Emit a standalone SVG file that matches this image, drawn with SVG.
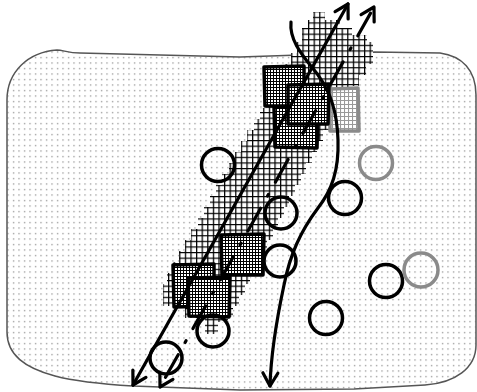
<svg xmlns="http://www.w3.org/2000/svg" width="477" height="392" viewBox="0 0 477 392">
<defs>
  <pattern id="dots" width="5.5" height="5.5" patternUnits="userSpaceOnUse">
    <rect x="2" y="2" width="1.1" height="1.1" fill="#666"/>
  </pattern>
  <pattern id="band" width="5.6" height="5.6" patternUnits="userSpaceOnUse">
    <rect width="5.6" height="5.6" fill="#fff"/>
    <path d="M0,0.6 H5.6 M0.6,0 V5.6" stroke="#000" stroke-width="1.3"/>
  </pattern>
  <pattern id="fine" width="3" height="3" patternUnits="userSpaceOnUse">
    <rect width="3" height="3" fill="#fff"/>
    <path d="M0,0.5 H3 M0.5,0 V3" stroke="#000" stroke-width="1"/>
  </pattern>
  <pattern id="fineGray" width="4" height="4" patternUnits="userSpaceOnUse">
    <rect width="4" height="4" fill="#fff"/>
    <path d="M0,0.5 H4 M0.5,0 V4" stroke="#999" stroke-width="1.1"/>
  </pattern>
  <marker id="ah" viewBox="-16 -10 20 20" markerWidth="20" markerHeight="20" refX="0" refY="0" orient="auto-start-reverse" markerUnits="userSpaceOnUse" overflow="visible">
    <path d="M-13,-7.5 L0,0 L-13,7.5" fill="none" stroke="#000" stroke-width="3.2" stroke-linecap="round" stroke-linejoin="round"/>
  </marker>
  <style>
    .sq { fill: url(#fine); stroke: #000; stroke-width: 3.5; stroke-linejoin: round; }
    .sqg { fill: url(#fineGray); stroke: #8a8a8a; stroke-width: 3.5; stroke-linejoin: round; }
    .c { fill: none; stroke: #000; stroke-width: 3.5; }
    .cg { fill: none; stroke: #8a8a8a; stroke-width: 3.5; }
    .ln { fill: none; stroke: #000; stroke-width: 3.2; stroke-linecap: round; }
  </style>
</defs>

<g id="region">
  <path d="M7,332 L7,100 C7,72 28,52 57,50 C63,50 68,53 80,53 L240,57 L300,55 L375,52 L440,53 C462,56 476,70 476,95 L476,345 C476,368 455,383 425,385 L354,389 L240,390 L133,386 C100,384 70,380 55,376 C25,368 7,355 7,332 Z" fill="#fff" stroke="#555" stroke-width="1.5"/>
  <path d="M7,332 L7,100 C7,72 28,52 57,50 C63,50 68,53 80,53 L240,57 L300,55 L375,52 L440,53 C462,56 476,70 476,95 L476,345 C476,368 455,383 425,385 L354,389 L240,390 L133,386 C100,384 70,380 55,376 C25,368 7,355 7,332 Z" fill="url(#dots)"/>
</g>

<g id="band-area">
  <path fill="url(#band)" d="M367,42 L373,42 L373,64 L366,64 L366,75 L359,75 L359,86 L352,86 L352,97 L345,97 L345,108 L337,108 L337,119 L330,119 L330,130 L323,130 L323,141 L317,141 L317,152 L312,152 L312,163 L306,163 L306,174 L301,174 L301,185 L295,185 L295,196 L289,196 L289,207 L284,207 L284,218 L278,218 L278,229 L273,229 L273,240 L267,240 L267,251 L261,251 L261,262 L256,262 L256,273 L250,273 L250,284 L245,284 L245,295 L239,295 L239,306 L233,306 L233,317 L228,317 L228,322 L218,322 L218,334 L205,334 L205,318 L185,318 L185,306 L163,306 L163,284 L167,284 L167,273 L173,273 L173,262 L179,262 L179,251 L185,251 L185,240 L191,240 L191,229 L198,229 L198,218 L204,218 L204,207 L210,207 L210,196 L216,196 L216,185 L222,185 L222,174 L229,174 L229,163 L235,163 L235,152 L241,152 L241,141 L247,141 L247,130 L254,130 L254,119 L260,119 L260,108 L266,108 L266,97 L272,97 L272,86 L278,86 L278,75 L285,75 L285,64 L291,64 L291,53 L297,53 L297,42 L302,42 L302,28 L308,28 L308,20 L313,20 L313,12 L325,12 L325,20 L340,20 L340,28 L352,28 L352,35 L367,35 Z"/>
</g>

<g id="square-g"><path class="sqg" d="M330,89 L358,88 L359,131 L330,131 Z"/></g>
<g id="square-c"><path class="sq" d="M274,107 L318,108 L317,148 L275,147 Z"/></g>
<g id="square-a"><path class="sq" d="M264,67 L304,66 L304,106 L265,106 Z"/></g>
<g id="square-b"><path class="sq" d="M288,85 L329,84 L328,124 L288,124 Z"/></g>
<g id="square-d"><path class="sq" d="M221,235 L264,234 L263,275 L222,275 Z"/></g>
<g id="square-e"><path class="sq" d="M173,265 L214,264 L214,306 L174,307 Z"/></g>
<g id="square-f"><path class="sq" d="M188,278 L230,277 L229,317 L189,316 Z"/></g>

<g id="circle-1"><circle class="c" cx="218" cy="165" r="16.5"/></g>
<g id="circle-2"><circle class="cg" cx="376" cy="163" r="16.5"/></g>
<g id="circle-3"><circle class="c" cx="345" cy="198" r="16.5"/></g>
<g id="circle-4"><circle class="c" cx="281" cy="213" r="16"/></g>
<g id="circle-5"><circle class="c" cx="280" cy="261" r="16"/></g>
<g id="circle-6"><circle class="c" cx="386" cy="281" r="16.5"/></g>
<g id="circle-7"><circle class="cg" cx="421" cy="270" r="17"/></g>
<g id="circle-8"><circle class="c" cx="326" cy="318" r="16.5"/></g>
<g id="circle-9"><circle class="c" cx="213" cy="331" r="16"/></g>
<g id="circle-10"><circle class="c" cx="166" cy="358" r="16"/></g>

<g id="connectors">
  <path class="ln" d="M133,385 L348,4" marker-start="url(#ah)" marker-end="url(#ah)"/>
  <path class="ln" d="M374,7 L160,387" stroke-dasharray="26 14 2 14" stroke-dashoffset="49" stroke-linecap="butt" marker-start="url(#ah)" marker-end="url(#ah)"/>
  <path class="ln" d="M291,22 C289,42 305,58 318,75 C330,92 337,110 338,140 C339,170 332,190 318,208 C300,232 290,255 284,285 C277,318 271,350 270,386" marker-end="url(#ah)"/>
</g>
</svg>
